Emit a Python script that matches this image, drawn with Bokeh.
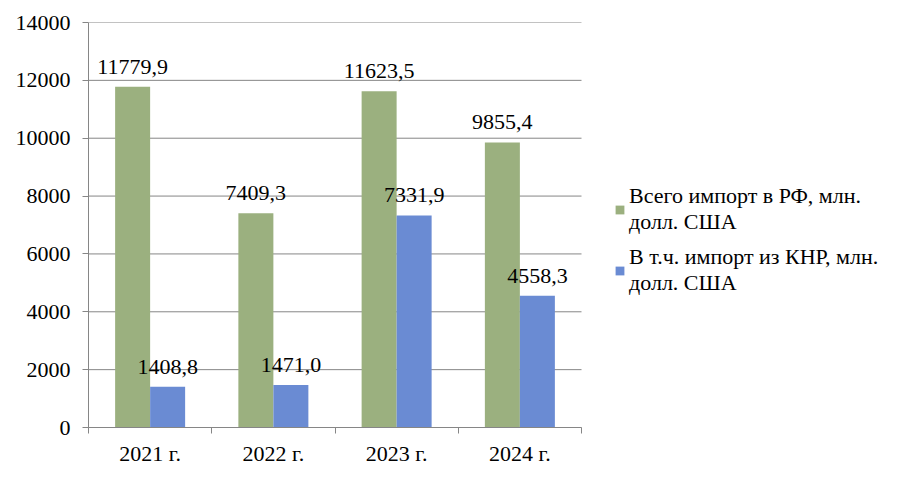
from bokeh.plotting import figure
from bokeh.models import Range1d, FixedTicker, Legend, LegendItem, ColumnDataSource
from bokeh.core.properties import value
from bokeh.embed import file_html
from bokeh.resources import INLINE
import numpy as np

categories = ["2021 г.", "2022 г.", "2023 г.", "2024 г."]
total_import = [11779.9, 7409.3, 11623.5, 9855.4]
china_import = [1408.8, 1471.0, 7331.9, 4558.3]
series_names = ["Всего импорт в РФ, млн.\nдолл. США", "В т.ч. импорт из КНР, млн.\nдолл. США"]
y_ticks = [0, 2000, 4000, 6000, 8000, 10000, 12000, 14000]

GREEN = "#9BB07F"
BLUE = "#6A8BD3"
GRAY = "#868686"
FONT = "Liberation Serif"
FS = "22px"

# layout (screen px): plot area 88..581, extended frame so the legend fits inside
W, H = 890, 472
LEFT, TOP, BOTTOM, FRAME_RIGHT = 88, 22, 427, 888
AXIS_RIGHT = 581
n = len(categories)
x_end = n * (FRAME_RIGHT - LEFT) / (AXIS_RIGHT - LEFT)

p = figure(width=W, height=H, output_backend="svg", toolbar_location=None,
           x_range=Range1d(0, x_end), y_range=Range1d(0, 14000),
           min_border_left=LEFT, min_border_right=W - FRAME_RIGHT,
           min_border_top=TOP, min_border_bottom=H - BOTTOM)
p.outline_line_color = None
p.background_fill_color = "white"
p.xgrid.visible = False
p.ygrid.visible = False

# horizontal gridlines limited to the category span
p.segment(x0=[0] * len(y_ticks), x1=[n] * len(y_ticks), y0=y_ticks, y1=y_ticks,
          line_color=GRAY, line_width=1)

idx = np.arange(n) + 0.5
off = 0.142
w = 0.284

src = ColumnDataSource(dict(
    xg=idx - off, xb=idx + off,
    total=total_import, china=china_import,
    tl=[f"{v:.1f}".replace(".", ",") for v in total_import],
    cl=[f"{v:.1f}".replace(".", ",") for v in china_import],
))

r1 = p.vbar(x="xg", top="total", width=w, bottom=0, source=src, fill_color=GREEN, line_color=None)
r2 = p.vbar(x="xb", top="china", width=w, bottom=0, source=src, fill_color=BLUE, line_color=None)

for xcol, ycol, tcol in [("xg", "total", "tl"), ("xb", "china", "cl")]:
    p.text(x=xcol, y=ycol, text=tcol, source=src, text_align="center", text_baseline="alphabetic",
           y_offset=-20, text_font=value(FONT), text_font_size=FS, text_color="black")

# axes
ya = p.yaxis[0]
ya.ticker = FixedTicker(ticks=y_ticks)
ya.major_tick_out = 6
ya.major_tick_in = 0
ya.minor_tick_line_color = None
ya.axis_line_color = GRAY
ya.major_tick_line_color = GRAY
ya.major_label_text_font = FONT
ya.major_label_text_font_size = FS
ya.major_label_text_color = "black"
ya.major_label_standoff = 12

xa = p.xaxis[0]
xa.bounds = (0, n)
xa.ticker = FixedTicker(ticks=list(idx), minor_ticks=list(range(n + 1)))
xa.major_label_overrides = {float(x): c for x, c in zip(idx, categories)}
xa.major_tick_out = 0
xa.major_tick_in = 0
xa.minor_tick_out = 6
xa.minor_tick_in = 0
xa.minor_tick_line_color = GRAY
xa.axis_line_color = GRAY
xa.major_label_text_font = FONT
xa.major_label_text_font_size = FS
xa.major_label_text_color = "black"
xa.major_label_standoff = 7

legend = Legend(items=[LegendItem(label=series_names[0], renderers=[r1]),
                       LegendItem(label=series_names[1], renderers=[r2])],
                location=(614 - LEFT, BOTTOM - 296), orientation="vertical",
                label_text_font=FONT, label_text_font_size=FS, label_text_color="black",
                label_text_line_height=1.27,
                glyph_width=11, glyph_height=11, label_standoff=4, spacing=9,
                padding=0, margin=0, border_line_color=None, background_fill_alpha=0)
p.add_layout(legend, "center")

open("out.html", "w").write(file_html(p, INLINE))
